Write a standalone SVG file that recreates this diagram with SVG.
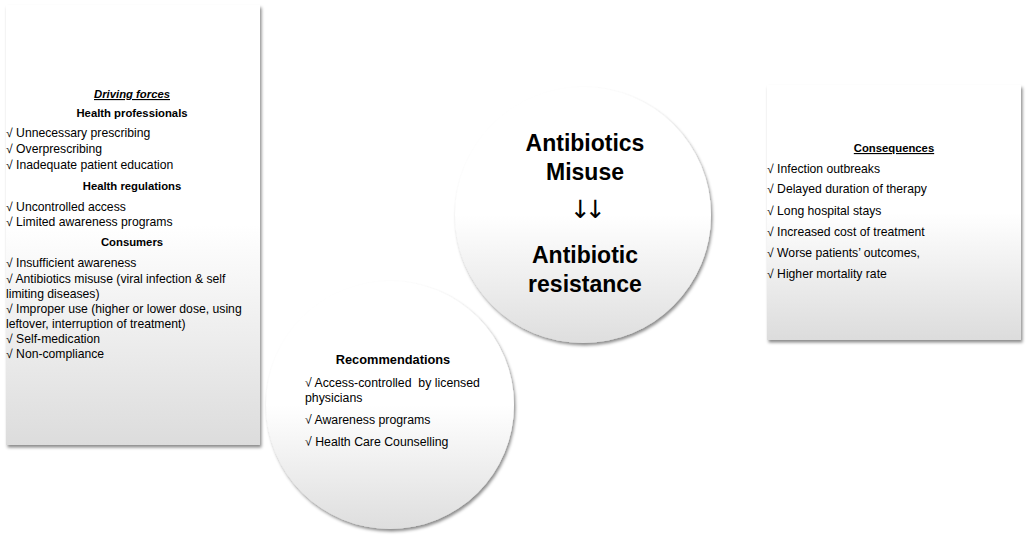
<svg xmlns="http://www.w3.org/2000/svg" width="1027" height="536" viewBox="0 0 1027 536">
<style>
text{font-family:"Liberation Sans",Arial,sans-serif;fill:#000;white-space:pre}
.b{font-size:12.2px}
.h{font-size:11.3px;font-weight:bold;text-anchor:middle}
.c{font-size:12.3px}
.big{font-size:23px;font-weight:bold;text-anchor:middle}
.arr{font-family:"DejaVu Sans",sans-serif;font-size:25px;text-anchor:middle;letter-spacing:-6px}
</style>
<defs>
<linearGradient id="gBox" x1="0" y1="0" x2="0" y2="1">
<stop offset="0" stop-color="#ffffff"/>
<stop offset="0.5" stop-color="#ffffff"/>
<stop offset="1" stop-color="#dcdcdc"/>
</linearGradient>
<linearGradient id="gCirc" x1="0" y1="0" x2="0" y2="1">
<stop offset="0" stop-color="#ffffff"/>
<stop offset="0.5" stop-color="#ffffff"/>
<stop offset="1" stop-color="#dedede"/>
</linearGradient>
<filter id="sh" x="-10%" y="-10%" width="125%" height="125%">
<feDropShadow dx="1.5" dy="2.5" stdDeviation="1.5" flood-color="#000" flood-opacity="0.45"/>
</filter>
</defs>

<g id="driving-forces">
<rect x="6" y="5" width="254" height="440" fill="url(#gBox)" filter="url(#sh)"/>
<text x="132" y="98" class="h" font-style="italic" text-decoration="underline">Driving forces</text>
<text x="132" y="117" class="h">Health professionals</text>
<text x="6" y="137" class="b">√ Unnecessary prescribing</text>
<text x="6" y="153" class="b">√ Overprescribing</text>
<text x="6" y="169" class="b">√ Inadequate patient education</text>
<text x="132" y="190" class="h">Health regulations</text>
<text x="6" y="211" class="b">√ Uncontrolled access</text>
<text x="6" y="226" class="b">√ Limited awareness programs</text>
<text x="132" y="246" class="h">Consumers</text>
<text x="6" y="267" class="b">√ Insufficient awareness</text>
<text x="6" y="283" class="b">√ Antibiotics misuse (viral infection &amp; self</text>
<text x="6" y="298" class="b">limiting diseases)</text>
<text x="6" y="313" class="b">√ Improper use (higher or lower dose, using</text>
<text x="6" y="328" class="b">leftover, interruption of treatment)</text>
<text x="6" y="343" class="b">√ Self-medication</text>
<text x="6" y="358" class="b">√ Non-compliance</text>
</g>

<g id="consequences">
<rect x="767" y="85" width="254" height="255" fill="url(#gBox)" filter="url(#sh)"/>
<text x="894" y="152" class="h" text-decoration="underline">Consequences</text>
<text x="767" y="173" class="b">√ Infection outbreaks</text>
<text x="767" y="193" class="b">√ Delayed duration of therapy</text>
<text x="767" y="215" class="b">√ Long hospital stays</text>
<text x="767" y="236" class="b">√ Increased cost of treatment</text>
<text x="767" y="257" class="b">√ Worse patients’ outcomes,</text>
<text x="767" y="278" class="b">√ Higher mortality rate</text>
</g>

<g id="antibiotic-resistance">
<circle cx="583" cy="215" r="128" fill="url(#gCirc)" filter="url(#sh)"/>
<text x="585" y="151" class="big">Antibiotics</text>
<text x="585" y="180" class="big">Misuse</text>
<text x="585" y="218" class="arr">↓↓</text>
<text x="585" y="263" class="big">Antibiotic</text>
<text x="585" y="292" class="big">resistance</text>
</g>

<g id="recommendations">
<circle cx="390" cy="405" r="124" fill="url(#gCirc)" filter="url(#sh)"/>
<text x="393" y="364" class="h" style="font-size:12.8px">Recommendations</text>
<text x="305" y="387" class="c">√ Access-controlled  by licensed</text>
<text x="305" y="402" class="c">physicians</text>
<text x="305" y="424" class="c">√ Awareness programs</text>
<text x="305" y="446" class="c">√ Health Care Counselling</text>
</g>

<g id="connectors"></g>
</svg>
